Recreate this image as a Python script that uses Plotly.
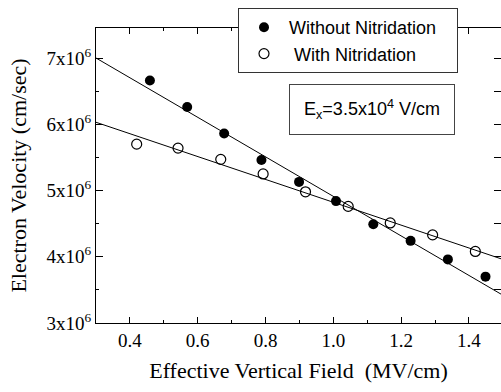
import plotly.graph_objects as go

# Data
field_without = [0.459, 0.569, 0.678, 0.788, 0.899, 1.008, 1.118, 1.228, 1.338, 1.449]
vel_without = [6.66e6, 6.26e6, 5.86e6, 5.46e6, 5.13e6, 4.84e6, 4.49e6, 4.24e6, 3.96e6, 3.70e6]

field_with = [0.420, 0.542, 0.668, 0.793, 0.918, 1.044, 1.168, 1.293, 1.419]
vel_with = [5.70e6, 5.64e6, 5.47e6, 5.25e6, 4.98e6, 4.76e6, 4.51e6, 4.33e6, 4.08e6]

fit_x = [0.3, 1.5]
fit_without = [7.0e6, 3.42e6]
fit_with = [6.03e6, 3.96e6]

y_tickvals = [3e6, 4e6, 5e6, 6e6, 7e6]
y_ticktext = ["3x10<sup>6</sup>", "4x10<sup>6</sup>", "5x10<sup>6</sup>", "6x10<sup>6</sup>", "7x10<sup>6</sup>"]
x_tickvals = [0.4, 0.6, 0.8, 1.0, 1.2, 1.4]
x_ticktext = ["0.4", "0.6", "0.8", "1.0", "1.2", "1.4"]

XR = [0.3, 1.4947]
YR = [3e6, 7.453e6]

serif = "Liberation Serif, Times New Roman, serif"
sans = "Liberation Sans, Arial, sans-serif"

fig = go.Figure()
fig.add_trace(go.Scatter(x=fit_x, y=fit_without, mode="lines",
                         line=dict(color="black", width=1), showlegend=False, hoverinfo="skip"))
fig.add_trace(go.Scatter(x=fit_x, y=fit_with, mode="lines",
                         line=dict(color="black", width=1), showlegend=False, hoverinfo="skip"))
fig.add_trace(go.Scatter(x=field_without, y=vel_without, mode="markers",
                         name="Without Nitridation&nbsp;&nbsp;&nbsp;",
                         marker=dict(symbol="circle", size=10, color="black")))
fig.add_trace(go.Scatter(x=field_with, y=vel_with, mode="markers", name="&nbsp;With Nitridation",
                         marker=dict(symbol="circle-open", size=10, color="black", line=dict(width=1.2))))
# invisible trace to bind right-side tick axis
fig.add_trace(go.Scatter(x=[None], y=[None], yaxis="y2", showlegend=False, hoverinfo="skip"))

fig.update_layout(
    width=501, height=392,
    margin=dict(l=96, r=0, t=28, b=69),
    paper_bgcolor="white", plot_bgcolor="white",
    showlegend=True,
    legend=dict(x=(238 - 96) / 405, y=(323 - 8) / 295, xanchor="left", yanchor="top",
                bgcolor="white", bordercolor="#333", borderwidth=1,
                font=dict(family=sans, size=18, color="black"),
                itemwidth=40, tracegroupgap=0),
    xaxis=dict(range=XR, showline=True, linecolor="black", linewidth=1, mirror="ticks",
               ticks="inside", ticklen=6, tickcolor="black", tickwidth=1,
               tickvals=x_tickvals, ticktext=x_ticktext,
               minor=dict(ticks="inside", ticklen=3, dtick=0.1, tick0=0.3, tickcolor="black"),
               showgrid=False, zeroline=False,
               tickfont=dict(family=serif, size=19, color="black"),
               title=dict(text="Effective Vertical Field  (MV/cm)",
                          font=dict(family=serif, size=22, color="black"), standoff=12)),
    yaxis=dict(range=YR, showline=True, linecolor="black", linewidth=1, mirror=False,
               ticks="inside", ticklen=7, tickcolor="black", tickwidth=1,
               tickvals=y_tickvals, ticktext=y_ticktext,
               minor=dict(ticks="inside", ticklen=3, dtick=0.5e6, tick0=3e6, tickcolor="black"),
               showgrid=False, zeroline=False, ticklabelstandoff=0,
               tickfont=dict(family=serif, size=19, color="black"),
               title=dict(text="Electron Velocity (cm/sec)",
                          font=dict(family=serif, size=22, color="black"), standoff=13)),
    yaxis2=dict(range=YR, overlaying="y", side="right", showline=False,
                ticks="inside", ticklen=7, tickcolor="black", dtick=0.5e6, tick0=3e6,
                showticklabels=False, showgrid=False, zeroline=False),
    annotations=[dict(xref="paper", yref="paper", x=(372 - 96) / 405, y=(323 - 110) / 295,
                      xanchor="center", yanchor="middle",
                      text="E<sub>x</sub>=3.5x10<sup>4</sup> V/cm", showarrow=False,
                      font=dict(family=sans, size=18, color="black"),
                      bordercolor="#444", borderwidth=1, borderpad=8, bgcolor="white",
                      width=148, height=33)],
)

fig.write_html("out.html")
